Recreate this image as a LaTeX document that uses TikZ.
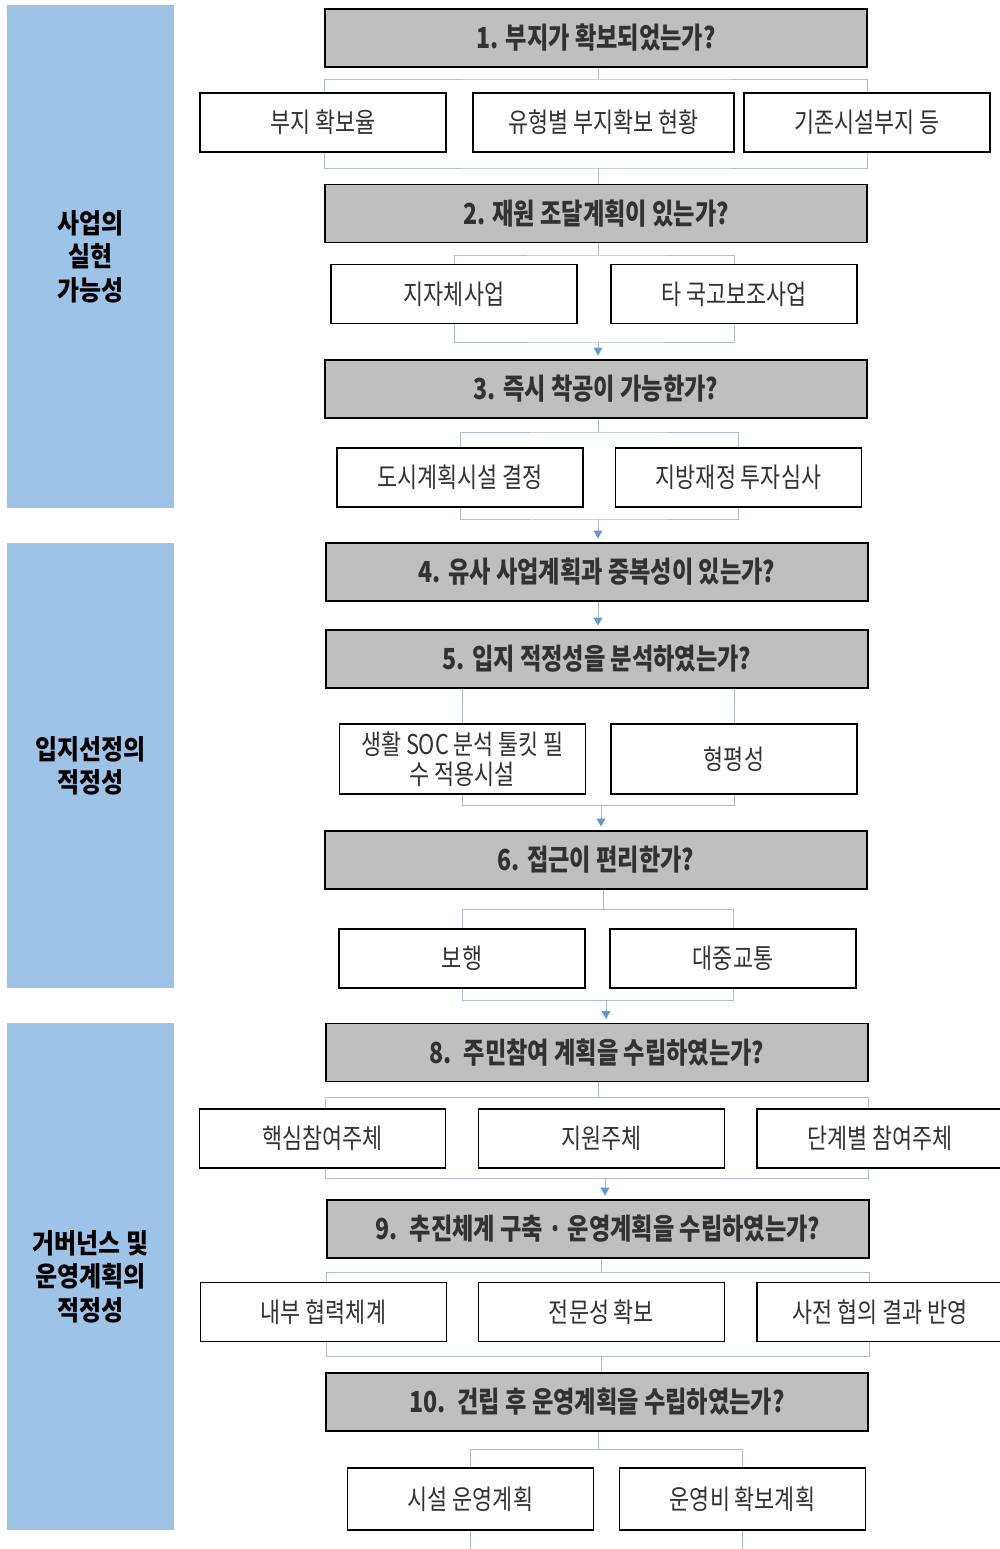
\documentclass[tikz,border=0pt]{standalone}
\usepackage{fontspec}
\setmainfont{Noto Sans CJK KR}
\newfontfamily\condfont[FakeStretch=0.8]{Noto Sans CJK KR}
\newfontfamily\sidefont[FakeStretch=0.88]{Noto Sans CJK KR}
\usetikzlibrary{arrows.meta, positioning}
\definecolor{barblue}{RGB}{157,195,230}
\definecolor{headgray}{RGB}{191,191,191}
\definecolor{linegray}{RGB}{172,188,205}
\definecolor{tipblue}{RGB}{91,155,213}
\definecolor{textgray}{RGB}{50,50,50}

\begin{document}
\begin{tikzpicture}[
  x=0.02cm, y=-0.02cm,
  sidebar/.style={fill=barblue, minimum width=3.34cm, inner sep=0pt, align=center, font=\sidefont\bfseries\fontsize{15.5}{19}\selectfont},
  head/.style={draw, fill=headgray, line width=1.1pt, minimum width=10.84cm, minimum height=1.16cm, inner sep=0pt, text=textgray, font=\condfont\bfseries\fontsize{16.5}{19}\selectfont},
  item/.style={draw, fill=white, line width=0.9pt, minimum width=4.92cm, minimum height=1.18cm, inner sep=0pt, align=center, text=textgray, font=\condfont\fontsize{15.5}{17}\selectfont},
  link/.style={draw=linegray, line width=0.55pt},
  tip/.style={-{Triangle[width=5pt, length=4.5pt, color=tipblue]}, shorten >=2pt}
]
  \fill[white] (0,0) rectangle (1000,1549);
  \useasboundingbox (0,0) rectangle (1000,1549);

  % side bars
  \node[sidebar, minimum height=10.06cm] (s1) at (90.5,256.5) {사업의\\실현\\가능성};
  \node[sidebar, minimum height=8.9cm] (s2) at (90.5,765.5) {입지선정의\\적정성};
  \node[sidebar, minimum height=10.14cm] (s3) at (90.5,1276.5) {거버넌스 및\\운영계획의\\적정성};

  % questions
  \node[head] (h1) at (596,38) {1. 부지가 확보되었는가?};
  \node[head] (h2) at (596,213.5) {2. 재원 조달계획이 있는가?};
  \node[head] (h3) at (596,389) {3. 즉시 착공이 가능한가?};
  \node[head] (h4) at (597,572) {4. 유사 사업계획과 중복성이 있는가?};
  \node[head] (h5) at (597,659) {5. 입지 적정성을 분석하였는가?};
  \node[head] (h6) at (596,860) {6. 접근이 편리한가?};
  \node[head] (h8) at (597,1052.5) {8.\, 주민참여 계획을 수립하였는가?};
  \node[head] (h9) at (598,1229) {9.\, 추진체계 구축 · 운영계획을 수립하였는가?};
  \node[head] (h10) at (597,1402) {10.\, 건립 후 운영계획을 수립하였는가?};

  % items
  \node[item] (b11) at (323,122.5) {부지 확보율};
  \node[item, minimum width=5.22cm] (b12) at (603.5,122.5) {유형별 부지확보 현황};
  \node[item] (b13) at (867,122.5) {기존시설부지 등};
  \node[item] (b21) at (454,294) {지자체사업};
  \node[item] (b22) at (734,294) {타 국고보조사업};
  \node[item] (b31) at (460,477.5) {도시계획시설 결정};
  \node[item] (b32) at (738.5,477.5) {지방재정 투자심사};
  \node[item, minimum height=1.4cm] (b51) at (462.5,759) {생활 SOC 분석 툴킷 필\\수 적용시설};
  \node[item, minimum height=1.4cm] (b52) at (734,759) {형평성};
  \node[item] (b61) at (462,958.5) {보행};
  \node[item] (b62) at (733,958.5) {대중교통};
  \node[item] (b81) at (322.5,1138.5) {핵심참여주체};
  \node[item] (b82) at (601.5,1138.5) {지원주체};
  \node[item] (b83) at (880,1138.5) {단계별 참여주체};
  \node[item] (b91) at (323.5,1312) {내부 협력체계};
  \node[item] (b92) at (601.5,1312) {전문성 확보};
  \node[item] (b93) at (880,1312) {사전 협의 결과 반영};
  \node[item, minimum height=1.24cm] (b101) at (470.5,1499) {시설 운영계획};
  \node[item, minimum height=1.24cm] (b102) at (742.5,1499) {운영비 확보계획};

  % junctions
  \coordinate (a1) at (598,79);    \coordinate (c1) at (598,168);
  \coordinate (a2) at (598,255);   \coordinate (c2) at (598,342);
  \coordinate (a3) at (598,432);   \coordinate (c3) at (598,519);
  \coordinate (c5) at (601,805);
  \coordinate (a6) at (603,909);   \coordinate (c6) at (606,1000);
  \coordinate (a8) at (598,1097);  \coordinate (c8) at (605,1178);
  \coordinate (a9) at (601,1272);  \coordinate (c9) at (601,1356);
  \coordinate (a10) at (598,1449);
  \coordinate (bottom) at (0,1549);

  % connectors
  \draw[link] (h1.south -| a1) -- (a1);
  \draw[link] (b11.north -| h1.south west) |- (a1) -| (b13.north -| h1.south east);
  \draw[link] (b11.south -| h1.south west) |- (c1) -| (b13.south -| h1.south east);
  \draw[link] (c1) -- (c1 |- h2.north);

  \draw[link] (h2.south -| a2) -- (a2);
  \draw[link] (b21.north) |- (a2) -| (b22.north);
  \draw[link] (b21.south) |- (c2) -| (b22.south);
  \draw[link, tip] (c2) -- (c2 |- h3.north);

  \draw[link] (h3.south -| a3) -- (a3);
  \draw[link] (b31.north) |- (a3) -| (b32.north);
  \draw[link] (b31.south) |- (c3) -| (b32.south);
  \draw[link, tip] (c3) -- (c3 |- h4.north);

  \draw[link, tip] (h4.south -| c3) -- (h5.north -| c3);

  \draw[link] (b51.north |- h5.south) -- (b51.north);
  \draw[link] (b52.north |- h5.south) -- (b52.north);
  \draw[link] (b51.south) |- (c5) -| (b52.south);
  \draw[link, tip] (c5) -- (c5 |- h6.north);

  \draw[link] (h6.south -| a6) -- (a6);
  \draw[link] (b61.north) |- (a6) -| (b62.north);
  \draw[link] (b61.south) |- (c6) -| (b62.south);
  \draw[link, tip] (c6) -- (c6 |- h8.north);

  \draw[link] (h8.south -| a8) -- (a8);
  \draw[link] (b81.north -| h8.south west) |- (a8) -| (b83.north -| h8.south east);
  \draw[link] (b81.south -| h8.south west) |- (c8) -| (b83.south -| h8.south east);
  \draw[link, tip] (c8) -- (c8 |- h9.north);

  \draw[link] (h9.south -| a9) -- (a9);
  \draw[link] (b91.north -| h9.south west) |- (a9) -| (b93.north -| h9.south east);
  \draw[link] (b91.south -| h9.south west) |- (c9) -| (b93.south -| h9.south east);
  \draw[link] (c9) -- (c9 |- h10.north);

  \draw[link] (h10.south -| a10) -- (a10);
  \draw[link] (b101.north) |- (a10) -| (b102.north);
  \draw[link] (b101.south) -- (b101.south |- bottom);
  \draw[link] (b102.south) -- (b102.south |- bottom);
\end{tikzpicture}
\end{document}
